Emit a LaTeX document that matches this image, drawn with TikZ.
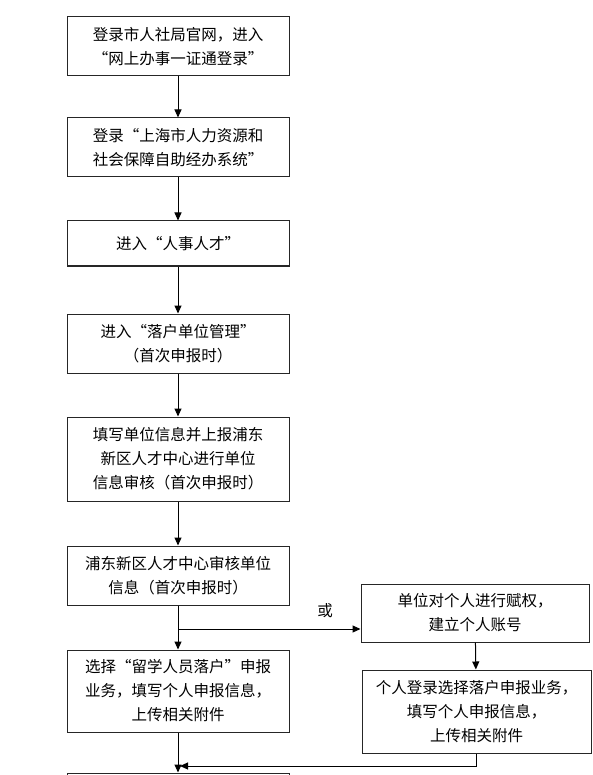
\documentclass[tikz,border=0pt]{standalone}
\usepackage{fontspec}
\setmainfont{Noto Sans CJK SC}
\usetikzlibrary{arrows.meta}
\begin{document}
\begin{tikzpicture}[x=1pt,y=-1pt,
    stepbox/.style={draw=black!85, line width=1pt, align=center, inner sep=0pt,
        font=\fontsize{15.5}{24}\selectfont},
    flow/.style={line width=1pt, -{Triangle[length=8pt,width=7pt]}}]
    \useasboundingbox (0,0) rectangle (593,775);
    \clip (0,0) rectangle (593,775);

    % main column
    \node[stepbox, minimum width=222pt, minimum height=59pt] (portal) at (178,46.5)
        {登录市人社局官网，进入\\“网上办事一证通登录”};
    \node[stepbox, minimum width=222pt, minimum height=59pt] (system) at (178,147.5)
        {登录“上海市人力资源和\\社会保障自助经办系统”};
    \node[stepbox, minimum width=222pt, minimum height=45pt] (talent) at (178,243.5)
        {进入“人事人才”};
    \node[stepbox, minimum width=222pt, minimum height=59pt] (unitmgr) at (178,343.5)
        {进入“落户单位管理”\\（首次申报时）};
    \node[stepbox, minimum width=222pt, minimum height=84pt] (unitinfo) at (178,459)
        {填写单位信息并上报浦东\\新区人才中心进行单位\\信息审核（首次申报时）};
    \node[stepbox, minimum width=222pt, minimum height=59pt] (verify) at (178,575.5)
        {浦东新区人才中心审核单位\\信息（首次申报时）};
    \node[stepbox, minimum width=222pt, minimum height=82pt] (apply) at (178,691)
        {选择“留学人员落户”申报\\业务，填写个人申报信息，\\上传相关附件};
    \node[stepbox, minimum width=222pt, minimum height=60pt] (final) at (178,803) {};

    % side branch
    \node[stepbox, minimum width=228pt, minimum height=58pt] (grant) at (475,613)
        {单位对个人进行赋权，\\建立个人账号};
    \node[stepbox, minimum width=229pt, minimum height=83pt] (personal) at (476.5,711.5)
        {个人登录选择落户申报业务，\\填写个人申报信息，\\上传相关附件};
    \node[font=\fontsize{15.5}{24}\selectfont] (orlabel) at (325,611) {或};

    \coordinate (fork) at (178,629);
    \coordinate (merge) at (180,766);

    % connectors
    \draw[flow] (portal) -- (system);
    \draw[flow] (system) -- (talent);
    \draw[flow] (talent) -- (unitmgr);
    \draw[flow] (unitmgr) -- (unitinfo);
    \draw[flow] (unitinfo) -- (verify);
    \draw[flow] (verify) -- (apply);
    \draw[flow] (apply) -- (final);
    \draw[flow] (fork) -- (fork -| grant.west);
    \draw[flow] (grant) -- (personal);
    \draw[flow] (personal.south) |- (merge);
\end{tikzpicture}
\end{document}
